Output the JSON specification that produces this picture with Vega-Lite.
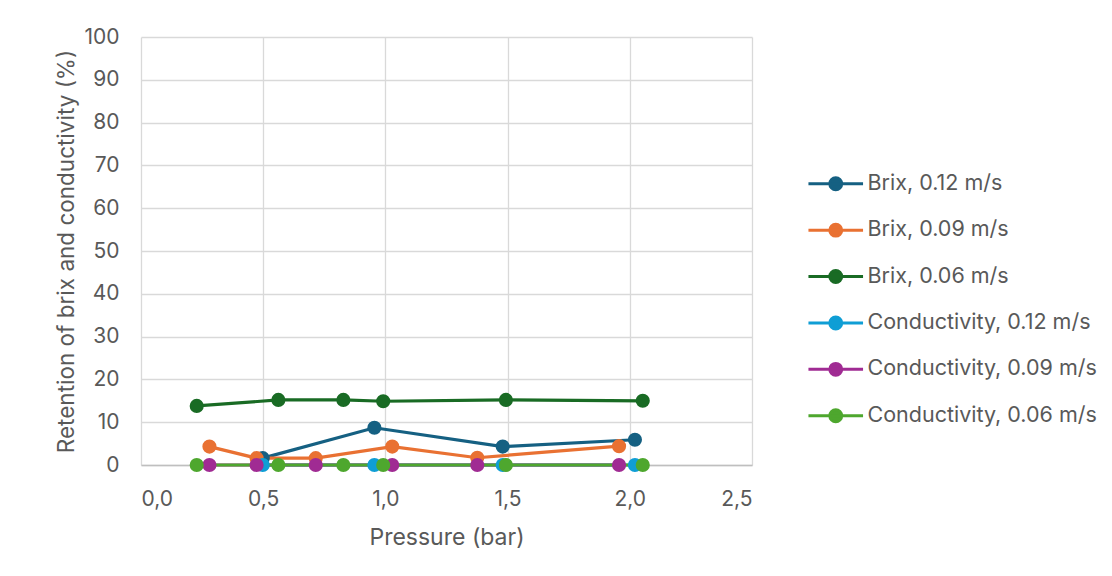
{
  "$schema": "https://vega.github.io/schema/vega-lite/v6.json",
  "width": 611,
  "height": 428,
  "autosize": {"type": "none"},
  "padding": {"left": 141, "top": 37, "right": 360, "bottom": 111},
  "background": "white",
  "config": {
    "font": "Inter",
    "view": {"stroke": null},
    "axis": {
      "gridColor": "#d9d9d9",
      "gridWidth": 1.3,
      "labelColor": "#595959",
      "titleColor": "#595959",
      "labelFont": "Inter",
      "titleFont": "Inter",
      "titleFontWeight": "normal",
      "ticks": false
    },
    "legend": {
      "labelFont": "Inter",
      "labelColor": "#595959"
    }
  },
  "data": {
    "values": [
      {"series": "Brix, 0.12 m/s", "pressure": 0.498, "retention": 1.6},
      {"series": "Brix, 0.12 m/s", "pressure": 0.955, "retention": 8.7},
      {"series": "Brix, 0.12 m/s", "pressure": 1.48, "retention": 4.3},
      {"series": "Brix, 0.12 m/s", "pressure": 2.021, "retention": 5.9},
      {"series": "Brix, 0.09 m/s", "pressure": 0.28, "retention": 4.3},
      {"series": "Brix, 0.09 m/s", "pressure": 0.473, "retention": 1.6},
      {"series": "Brix, 0.09 m/s", "pressure": 0.715, "retention": 1.6},
      {"series": "Brix, 0.09 m/s", "pressure": 1.028, "retention": 4.3},
      {"series": "Brix, 0.09 m/s", "pressure": 1.376, "retention": 1.7},
      {"series": "Brix, 0.09 m/s", "pressure": 1.956, "retention": 4.4},
      {"series": "Brix, 0.06 m/s", "pressure": 0.228, "retention": 13.8},
      {"series": "Brix, 0.06 m/s", "pressure": 0.562, "retention": 15.2},
      {"series": "Brix, 0.06 m/s", "pressure": 0.828, "retention": 15.2},
      {"series": "Brix, 0.06 m/s", "pressure": 0.991, "retention": 14.9},
      {"series": "Brix, 0.06 m/s", "pressure": 1.493, "retention": 15.2},
      {"series": "Brix, 0.06 m/s", "pressure": 2.053, "retention": 15.0},
      {"series": "Conductivity, 0.12 m/s", "pressure": 0.498, "retention": 0},
      {"series": "Conductivity, 0.12 m/s", "pressure": 0.955, "retention": 0},
      {"series": "Conductivity, 0.12 m/s", "pressure": 1.48, "retention": 0},
      {"series": "Conductivity, 0.12 m/s", "pressure": 2.021, "retention": 0},
      {"series": "Conductivity, 0.09 m/s", "pressure": 0.28, "retention": 0},
      {"series": "Conductivity, 0.09 m/s", "pressure": 0.473, "retention": 0},
      {"series": "Conductivity, 0.09 m/s", "pressure": 0.715, "retention": 0},
      {"series": "Conductivity, 0.09 m/s", "pressure": 1.028, "retention": 0},
      {"series": "Conductivity, 0.09 m/s", "pressure": 1.376, "retention": 0},
      {"series": "Conductivity, 0.09 m/s", "pressure": 1.956, "retention": 0},
      {"series": "Conductivity, 0.06 m/s", "pressure": 0.228, "retention": 0},
      {"series": "Conductivity, 0.06 m/s", "pressure": 0.562, "retention": 0},
      {"series": "Conductivity, 0.06 m/s", "pressure": 0.828, "retention": 0},
      {"series": "Conductivity, 0.06 m/s", "pressure": 0.991, "retention": 0},
      {"series": "Conductivity, 0.06 m/s", "pressure": 1.493, "retention": 0},
      {"series": "Conductivity, 0.06 m/s", "pressure": 2.053, "retention": 0}
    ]
  },
  "encoding": {
    "x": {
      "field": "pressure",
      "type": "quantitative",
      "scale": {"domain": [0, 2.5], "nice": false, "zero": false},
      "axis": {
        "title": "Pressure (bar)",
        "values": [0, 0.5, 1, 1.5, 2, 2.5],
        "labelExpr": "replace(format(datum.value, '.1f'), '.', ',')",
        "labelFontSize": 21,
        "titleFontSize": 23,
        "labelPadding": 23,
        "titlePadding": 17,
        "domainColor": "#bfbfbf",
        "domainWidth": 1.3
      }
    },
    "y": {
      "field": "retention",
      "type": "quantitative",
      "scale": {"domain": [0, 100], "nice": false},
      "axis": {
        "title": "Retention of brix and conductivity (%)",
        "values": [0, 10, 20, 30, 40, 50, 60, 70, 80, 90, 100],
        "labelFontSize": 21,
        "titleFontSize": 22.5,
        "labelPadding": 22,
        "titlePadding": 5,
        "domain": false
      }
    },
    "color": {
      "field": "series",
      "type": "nominal",
      "scale": {
        "domain": ["Brix, 0.12 m/s", "Brix, 0.09 m/s", "Brix, 0.06 m/s", "Conductivity, 0.12 m/s", "Conductivity, 0.09 m/s", "Conductivity, 0.06 m/s"],
        "range": ["#156082", "#e97132", "#196b24", "#0f9ed5", "#a02b93", "#4ea72e"]
      },
      "legend": {
        "title": null,
        "orient": "none",
        "legendX": 684,
        "legendY": 136,
        "symbolType": "M-3.9,0L3.9,0M0.85,0A0.85,0.85,0,1,1,-0.85,0A0.85,0.85,0,1,1,0.85,0Z",
        "symbolSize": 196,
        "symbolStrokeWidth": 3,
        "labelFontSize": 21.5,
        "labelLimit": 400,
        "labelOffset": 21,
        "rowPadding": 21.4,
        "encode": {
          "symbols": {
            "update": {
              "fill": {"scale": "color", "field": "value"},
              "stroke": {"scale": "color", "field": "value"},
              "opacity": {"value": 1}
            }
          }
        }
      }
    }
  },
  "layer": [
    {"mark": {"type": "line", "strokeWidth": 3.2}},
    {"mark": {"type": "point", "filled": true, "size": 200, "opacity": 1}}
  ]
}
